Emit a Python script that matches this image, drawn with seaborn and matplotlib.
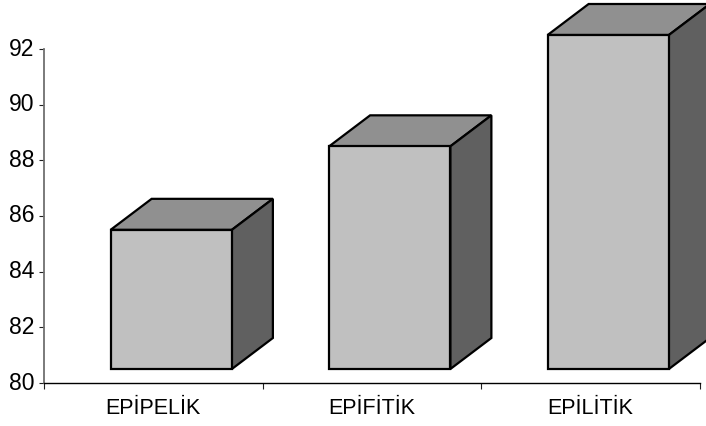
import matplotlib
matplotlib.use("Agg")
import matplotlib.pyplot as plt
from matplotlib.patches import Polygon
from matplotlib.transforms import Affine2D
import numpy as np
import seaborn as sns

categories = ["EPİPELİK", "EPİFİTİK", "EPİLİTİK"]
values = [85, 88, 92]
baseline = 80
y_ticks = [80, 82, 84, 86, 88, 90, 92]

W, H = 706, 426
sns.set_theme(style="white")
plt.rcParams["font.family"] = ["Liberation Sans", "DejaVu Sans"]

fig = plt.figure(figsize=(W / 100, H / 100), dpi=100, facecolor="white")
left, right, y0, y1 = 44, 699.5, 383, 49
ax = fig.add_axes([left / W, (H - y0) / H, (right - left) / W, (y0 - y1) / H])

sns.barplot(x=categories, y=[v - baseline for v in values], bottom=baseline,
            width=0.555, color="#C0C0C0", saturation=1,
            edgecolor="black", linewidth=1.6, ax=ax, zorder=3)
ax.set_xlim(-0.5, 2.5)
ax.set_ylim(80, 92)

# pseudo-3D depth: pixels -> data units
px_x = (right - left) / 3
px_y = (y0 - y1) / 12
dx = 41 / px_x
dy = 31 / px_y
shift = Affine2D().translate(18, 14)
tr = ax.transData + shift

for p in list(ax.patches):
    x, w, b, h = p.get_x(), p.get_width(), p.get_y(), p.get_height()
    p.set_transform(tr)
    p.set_clip_on(False)
    top = Polygon([(x, b + h), (x + dx, b + h + dy), (x + w + dx, b + h + dy), (x + w, b + h)],
                  closed=True, facecolor="#909090", edgecolor="black", linewidth=1.6,
                  joinstyle="miter", transform=tr, clip_on=False, zorder=2)
    side = Polygon([(x + w, b), (x + w + dx, b + dy), (x + w + dx, b + h + dy), (x + w, b + h)],
                   closed=True, facecolor="#606060", edgecolor="black", linewidth=1.6,
                   joinstyle="miter", transform=tr, clip_on=False, zorder=2)
    ax.add_patch(top)
    ax.add_patch(side)

for s in ["top", "right"]:
    ax.spines[s].set_visible(False)
ax.spines["left"].set_color("#707070")
ax.spines["left"].set_linewidth(1.3)
ax.spines["bottom"].set_color("black")
ax.spines["bottom"].set_linewidth(1.0)

ax.set_yticks(y_ticks)
ax.set_yticklabels([str(t) for t in y_ticks])
ax.tick_params(axis="y", left=True, length=3.6, width=0.8, color="#202020",
               pad=3.5, labelsize=16.5, labelcolor="black")
for lab in ax.get_yticklabels():
    lab.set_transform(lab.get_transform() + Affine2D().translate(0, 2.5))
ax.set_xticks(range(len(categories)))
ax.set_xticklabels(categories)
ax.set_xticks(np.arange(len(categories) + 1) - 0.5, minor=True)
ax.tick_params(axis="x", which="major", bottom=False, pad=5, labelsize=15.5, labelcolor="black")
ax.tick_params(axis="x", which="minor", bottom=True, length=4.3, width=0.8, color="#202020")
ax.xaxis.get_minor_ticks()[0].tick1line.set_color("#707070")
ax.set_xlabel("")
ax.set_ylabel("")
ax.patch.set_alpha(0)

fig.savefig("out.png", dpi=100)
